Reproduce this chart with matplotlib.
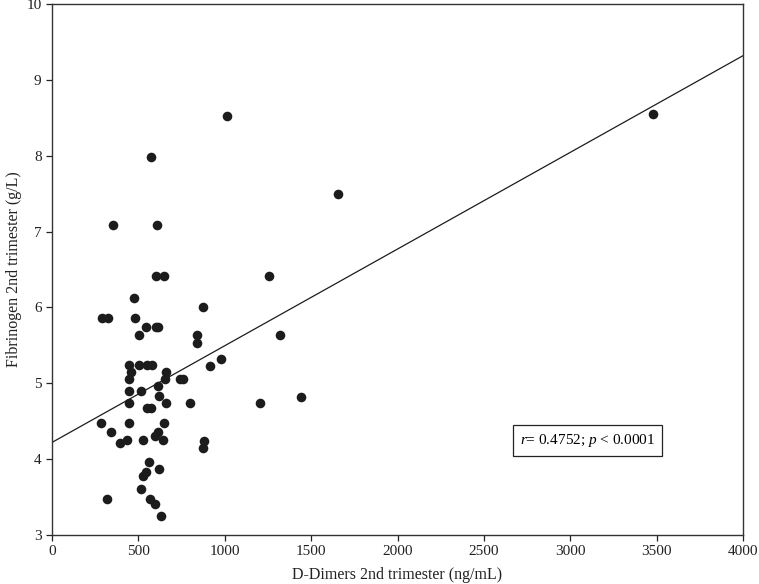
import numpy as np
import matplotlib
matplotlib.use("Agg")
import matplotlib.pyplot as plt

plt.rcParams['font.family'] = ['Liberation Serif', 'DejaVu Serif']
plt.rcParams['mathtext.fontset'] = 'custom'
plt.rcParams['mathtext.rm'] = 'Liberation Serif'
plt.rcParams['mathtext.it'] = 'Liberation Serif:italic'

# D-Dimers (ng/mL) vs fibrinogen (g/L)
d_dimers = [3480, 1013, 1654, 1258, 573, 355, 606, 602, 650,
            473, 291, 324, 482, 545, 600, 615, 505,
            448, 504, 552, 581, 455, 660, 448, 654, 740, 756,
            612, 448, 513, 621, 448, 548, 573, 660, 799,
            282, 446, 650, 340, 612, 394, 432, 525, 596, 644,
            560, 618, 544, 528, 513, 317, 567, 596, 631,
            876, 841, 841, 1320, 978, 915, 1204, 1440, 880, 875]
fibrinogen = [8.55, 8.52, 7.50, 6.41, 7.98, 7.09, 7.09, 6.41, 6.41,
              6.12, 5.86, 5.86, 5.86, 5.74, 5.74, 5.74, 5.63,
              5.24, 5.24, 5.24, 5.24, 5.15, 5.15, 5.06, 5.06, 5.06, 5.06,
              4.97, 4.90, 4.90, 4.83, 4.74, 4.68, 4.68, 4.74, 4.74,
              4.48, 4.48, 4.48, 4.36, 4.36, 4.21, 4.25, 4.25, 4.30, 4.25,
              3.96, 3.87, 3.83, 3.78, 3.61, 3.47, 3.48, 3.41, 3.25,
              6.00, 5.64, 5.53, 5.64, 5.32, 5.23, 4.74, 4.82, 4.24, 4.14]

fit_intercept = 4.22
fit_slope = 0.001275
stats_text = r'$r$= 0.4752; $p$ < 0.0001'

fig = plt.figure(figsize=(7.59, 5.84), dpi=100)
ax = fig.add_axes([0.0685, 0.084, 0.9105, 0.909])

ax.scatter(d_dimers, fibrinogen, s=48, color='#1c1c1c', linewidths=0, zorder=3)

xs = np.array([0, 4000])
ax.plot(xs, fit_intercept + fit_slope * xs, color='#1c1c1c', lw=0.9)

ax.text(3100, 4.25, stats_text, fontsize=11, ha='center', va='center',
        bbox=dict(boxstyle='square,pad=0.45', fc='white', ec='#222222', lw=0.9))

ax.set_xlim(0, 4000)
ax.set_ylim(3, 10)
ax.set_xticks(np.arange(0, 4001, 500))
ax.set_yticks(np.arange(3, 11, 1))
ax.tick_params(direction='out', length=4, width=0.9, labelsize=11, colors='#222222')
for s in ax.spines.values():
    s.set_color('#333333')
    s.set_linewidth(1.0)

ax.set_xlabel('D-Dimers 2nd trimester (ng/mL)', fontsize=11.5, color='#222222', labelpad=6)
ax.set_ylabel('Fibrinogen 2nd trimester (g/L)', fontsize=11.5, color='#222222', labelpad=3)

fig.savefig('out.png', dpi=100)
